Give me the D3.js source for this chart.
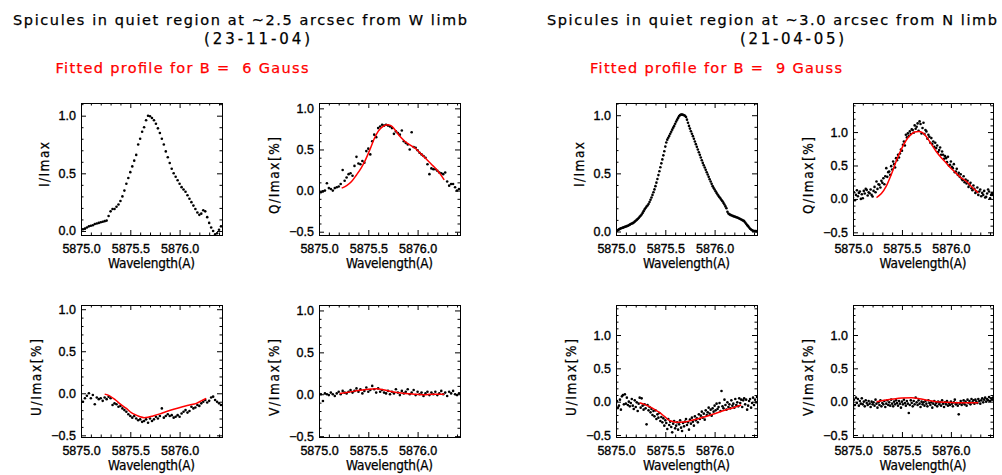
<!DOCTYPE html>
<html><head><meta charset="utf-8">
<script src="https://cdn.jsdelivr.net/npm/d3@7"></script>
<style>body{margin:0;background:#fff}svg{display:block}</style>
</head><body><svg id="c" width="1002" height="475"></svg>
<script>
// ---------- DATA ----------
const xDomain = [5875.0, 5876.43];
const xMajor = [5875.0, 5875.5, 5876.0];
const xMinor = [5875.1,5875.2,5875.3,5875.4,5875.6,5875.7,5875.8,5875.9,5876.1,5876.2,5876.3,5876.4];
const yMajorI = [0.0, 0.5, 1.0];
const yMajorP = [-0.5, 0.0, 0.5, 1.0];
const yMinor = [-0.4,-0.3,-0.2,-0.1,0.1,0.2,0.3,0.4,0.6,0.7,0.8,0.9,1.1,1.2,1.3,1.4];

const titleLeft = "Spicules in quiet region at ~2.5 arcsec from W limb";
const dateLeft = "(23-11-04)";
const fitLabelLeft = "Fitted profile for B =  6 Gauss";
const titleRight = "Spicules in quiet region at ~3.0 arcsec from N limb";
const dateRight = "(21-04-05)";
const fitLabelRight = "Fitted profile for B =  9 Gauss";
const xLabel = "Wavelength(A)";

// left observation (23-11-04)
const wlLeft = [
5875.00,5875.02,5875.04,5875.06,5875.08,5875.10,5875.12,5875.14,5875.16,5875.18,
5875.20,5875.22,5875.24,5875.26,5875.28,5875.30,5875.32,5875.34,5875.36,5875.38,
5875.40,5875.42,5875.44,5875.46,5875.48,5875.50,5875.52,5875.54,5875.56,5875.58,
5875.60,5875.62,5875.64,5875.66,5875.68,5875.70,5875.72,5875.74,5875.76,5875.78,
5875.80,5875.82,5875.84,5875.86,5875.88,5875.90,5875.92,5875.94,5875.96,5875.98,
5876.00,5876.02,5876.04,5876.06,5876.08,5876.10,5876.12,5876.14,5876.16,5876.18,
5876.20,5876.22,5876.24,5876.26,5876.28,5876.30,5876.32,5876.34,5876.36,5876.38,
5876.40,5876.42];
const iLeft = [
0.01,0.015,0.02,0.03,0.04,0.045,0.05,0.06,0.065,0.07,
0.075,0.08,0.085,0.09,0.13,0.17,0.19,0.19,0.21,0.23,
0.26,0.30,0.35,0.41,0.46,0.51,0.56,0.61,0.66,0.75,
0.80,0.86,0.90,0.96,1.0,0.995,0.98,0.96,0.93,0.89,
0.85,0.80,0.75,0.69,0.64,0.59,0.54,0.50,0.47,0.44,
0.41,0.38,0.36,0.34,0.31,0.28,0.25,0.22,0.19,0.16,
0.14,0.15,0.18,0.17,0.12,0.07,0.03,0.00,-0.03,-0.02,
0.01,0.04];
const qLeft = [
-0.04,-0.02,-0.01,0.00,0.09,0.03,0.02,0.00,0.03,0.04,
0.05,0.08,0.25,0.12,0.16,0.20,0.21,0.18,0.30,0.41,
0.33,0.32,0.36,0.34,0.48,0.51,0.44,0.60,0.68,0.65,
0.76,0.78,0.80,0.79,0.80,0.79,0.78,0.76,0.69,0.72,
0.70,0.68,0.73,0.60,0.58,0.56,0.50,0.71,0.53,0.52,
0.49,0.46,0.44,0.42,0.40,0.32,0.20,0.27,0.26,0.26,
0.24,0.22,0.21,0.20,0.22,0.11,0.06,0.08,0.08,0.04,
0.00,0.02];
const uLeft = [
-0.08,-0.10,-0.06,-0.03,0.00,-0.06,-0.02,-0.13,-0.05,-0.07,
-0.06,-0.09,-0.05,-0.07,-0.04,-0.06,-0.14,-0.12,-0.13,-0.16,
-0.15,-0.18,-0.20,-0.22,-0.25,-0.27,-0.29,-0.27,-0.30,-0.32,
-0.31,-0.34,-0.33,-0.31,-0.35,-0.30,-0.33,-0.31,-0.28,-0.30,
-0.27,-0.18,-0.29,-0.27,-0.25,-0.27,-0.26,-0.29,-0.28,-0.26,
-0.28,-0.24,-0.22,-0.20,-0.23,-0.21,-0.16,-0.18,-0.17,-0.14,
-0.15,-0.12,-0.10,-0.08,-0.11,-0.09,-0.05,-0.04,-0.08,-0.10,
-0.12,-0.14];
const vLeft = [
0.01,0.00,-0.08,0.01,0.00,-0.01,0.02,0.00,-0.02,0.01,
0.03,0.00,0.04,0.02,0.01,0.03,0.05,0.02,0.04,0.07,
0.03,0.06,0.01,0.04,0.08,0.03,0.05,0.10,0.06,0.02,
0.07,0.03,0.05,0.02,0.01,0.04,0.00,0.03,0.01,0.06,
0.02,-0.01,0.04,0.01,0.03,0.06,0.00,0.02,0.05,-0.01,
0.03,0.00,0.02,-0.02,0.01,0.03,-0.01,0.02,0.00,0.03,
-0.01,0.01,0.04,0.00,0.02,-0.02,0.03,0.01,0.04,0.00,
-0.01,0.01];
const fitQLeft = [[5875.23,0.03],[5875.28,0.06],[5875.33,0.11],[5875.38,0.19],[5875.43,0.28],[5875.47,0.37],[5875.52,0.51],[5875.56,0.63],[5875.60,0.72],[5875.65,0.78],[5875.69,0.80],[5875.73,0.79],[5875.77,0.74],[5875.82,0.66],[5875.87,0.60],[5875.93,0.55],[5875.99,0.50],[5876.04,0.44],[5876.09,0.38],[5876.14,0.32],[5876.19,0.26],[5876.23,0.20],[5876.27,0.13]];
const fitULeft = [[5875.24,-0.01],[5875.29,-0.03],[5875.35,-0.08],[5875.40,-0.13],[5875.46,-0.18],[5875.51,-0.23],[5875.56,-0.26],[5875.60,-0.28],[5875.64,-0.29],[5875.68,-0.285],[5875.73,-0.27],[5875.80,-0.245],[5875.86,-0.22],[5875.94,-0.19],[5876.03,-0.16],[5876.10,-0.14],[5876.17,-0.12],[5876.22,-0.09],[5876.27,-0.06]];
const fitVLeft = [[5875.21,0.01],[5875.30,0.025],[5875.40,0.045],[5875.50,0.06],[5875.58,0.065],[5875.65,0.055],[5875.72,0.035],[5875.79,0.02],[5875.88,0.01],[5875.97,0.0],[5876.06,-0.005],[5876.15,0.0],[5876.27,0.0]];

// right observation (21-04-05)
const wlRight = [
5875.00,5875.01,5875.02,5875.03,5875.04,5875.05,5875.06,5875.07,5875.08,5875.09,
5875.10,5875.11,5875.12,5875.13,5875.14,5875.15,5875.16,5875.17,5875.18,5875.19,
5875.20,5875.21,5875.22,5875.23,5875.24,5875.25,5875.26,5875.27,5875.28,5875.29,
5875.30,5875.31,5875.32,5875.33,5875.34,5875.35,5875.36,5875.37,5875.38,5875.39,
5875.40,5875.41,5875.42,5875.43,5875.44,5875.45,5875.46,5875.47,5875.48,5875.49,
5875.50,5875.51,5875.52,5875.53,5875.54,5875.55,5875.56,5875.57,5875.58,5875.59,
5875.60,5875.61,5875.62,5875.63,5875.64,5875.65,5875.66,5875.67,5875.68,5875.69,
5875.70,5875.71,5875.72,5875.73,5875.74,5875.75,5875.76,5875.77,5875.78,5875.79,
5875.80,5875.81,5875.82,5875.83,5875.84,5875.85,5875.86,5875.87,5875.88,5875.89,
5875.90,5875.91,5875.92,5875.93,5875.94,5875.95,5875.96,5875.97,5875.98,5875.99,
5876.00,5876.01,5876.02,5876.03,5876.04,5876.05,5876.06,5876.07,5876.08,5876.09,
5876.10,5876.11,5876.12,5876.13,5876.14,5876.15,5876.16,5876.17,5876.18,5876.19,
5876.20,5876.21,5876.22,5876.23,5876.24,5876.25,5876.26,5876.27,5876.28,5876.29,
5876.30,5876.31,5876.32,5876.33,5876.34,5876.35,5876.36,5876.37,5876.38,5876.39,
5876.40,5876.41,5876.42,5876.43];
const iRight = [
0.000,0.006,0.012,0.018,0.023,0.027,0.030,0.033,0.037,0.040,
0.043,0.046,0.050,0.054,0.059,0.064,0.068,0.072,0.078,0.085,
0.092,0.100,0.107,0.116,0.126,0.136,0.146,0.160,0.175,0.190,
0.202,0.214,0.224,0.236,0.254,0.273,0.293,0.315,0.338,0.362,
0.390,0.420,0.452,0.485,0.518,0.552,0.586,0.620,0.655,0.690,
0.730,0.765,0.790,0.806,0.822,0.840,0.858,0.876,0.893,0.908,
0.926,0.945,0.962,0.977,0.992,1.002,1.006,1.005,1.003,1.000,
0.996,0.985,0.962,0.935,0.908,0.885,0.862,0.840,0.820,0.797,
0.774,0.751,0.728,0.705,0.682,0.659,0.636,0.613,0.590,0.570,
0.550,0.530,0.510,0.490,0.470,0.450,0.430,0.410,0.390,0.375,
0.361,0.346,0.332,0.318,0.306,0.294,0.283,0.271,0.260,0.246,
0.232,0.216,0.200,0.170,0.155,0.148,0.143,0.140,0.136,0.132,
0.129,0.126,0.123,0.120,0.116,0.112,0.108,0.103,0.098,0.094,
0.089,0.078,0.066,0.055,0.046,0.034,0.024,0.017,0.011,0.007,
0.005,0.004,0.003,0.002];
const qRight = [
0.02,0.10,-0.02,0.06,0.13,0.04,0.09,0.11,0.00,0.07,
0.01,0.12,0.08,0.15,0.135,0.05,0.10,0.085,0.14,0.06,
0.035,0.12,0.18,0.10,0.26,0.15,0.22,0.21,0.17,0.27,
0.24,0.31,0.22,0.34,0.46,0.33,0.40,0.41,0.36,0.49,
0.44,0.56,0.52,0.47,0.61,0.58,0.66,0.62,0.68,0.74,
0.72,0.81,0.86,0.80,0.96,0.92,0.98,0.94,1.01,0.97,
1.04,1.03,0.99,1.10,1.05,1.08,1.13,1.02,1.16,1.12,
0.98,1.06,1.14,0.97,1.03,1.01,0.90,0.96,0.93,0.84,
0.91,0.82,0.86,0.78,0.84,0.76,0.80,0.70,0.73,0.77,
0.66,0.71,0.66,0.60,0.64,0.61,0.55,0.63,0.50,0.51,
0.56,0.48,0.46,0.52,0.40,0.41,0.45,0.36,0.39,0.33,
0.37,0.30,0.28,0.34,0.25,0.29,0.23,0.27,0.18,0.21,
0.24,0.16,0.13,0.20,0.15,0.09,0.11,0.17,0.06,0.11,
0.14,0.04,0.09,0.06,0.12,0.02,0.03,0.08,0.14,0.11,
0.01,0.06,0.09,0.06];
const uRight = [
-0.02,0.01,-0.09,-0.06,0.03,-0.12,0.08,0.10,-0.04,0.11,
-0.03,0.06,-0.05,0.00,-0.07,-0.02,0.04,-0.06,-0.11,0.02,
-0.08,-0.01,-0.14,-0.03,0.06,-0.09,0.05,-0.06,-0.12,-0.04,
-0.10,-0.34,-0.05,-0.13,-0.08,-0.16,-0.11,-0.20,-0.14,-0.22,
-0.13,-0.26,-0.19,-0.24,-0.17,-0.29,-0.23,-0.31,-0.25,-0.36,
-0.28,-0.32,-0.41,-0.26,-0.35,-0.30,-0.38,-0.46,-0.33,-0.29,
-0.40,-0.36,-0.31,-0.42,-0.34,-0.28,-0.39,-0.44,-0.32,-0.37,
-0.30,-0.26,-0.35,-0.31,-0.42,-0.27,-0.33,-0.24,-0.30,-0.36,
-0.22,-0.28,-0.25,-0.31,-0.19,-0.26,-0.21,-0.15,-0.24,-0.18,
-0.27,-0.13,-0.20,-0.16,-0.09,-0.18,-0.12,-0.21,-0.10,-0.15,
-0.06,-0.13,-0.03,-0.11,-0.08,-0.02,-0.14,0.16,-0.07,-0.10,
0.03,-0.05,-0.12,-0.01,-0.08,-0.04,-0.10,0.02,-0.06,-0.03,
-0.09,0.04,-0.05,-0.01,-0.07,0.05,-0.02,0.03,-0.08,0.02,
0.05,-0.04,0.03,-0.12,-0.06,0.01,0.04,-0.09,-0.02,0.06,
-0.05,0.03,-0.01,0.07];
const vRight = [
-0.08,0.03,-0.05,0.06,-0.02,0.04,-0.06,0.01,-0.03,0.05,
-0.04,0.00,-0.07,0.02,-0.02,-0.05,0.01,-0.03,-0.08,0.00,
-0.04,-0.01,-0.06,0.03,-0.03,-0.09,-0.01,-0.05,0.02,-0.07,
-0.02,-0.04,0.01,-0.08,-0.03,0.02,-0.05,-0.01,-0.06,0.03,
-0.03,-0.07,0.00,-0.04,0.02,-0.02,-0.06,0.01,-0.03,-0.09,
0.00,-0.04,0.03,-0.02,-0.06,0.01,-0.03,-0.17,-0.05,0.02,
-0.02,-0.07,0.01,-0.04,0.06,-0.01,-0.05,0.02,-0.03,-0.08,
0.00,-0.04,-0.01,-0.06,0.01,-0.03,-0.07,0.02,-0.02,-0.05,
-0.01,-0.09,-0.03,0.01,-0.05,-0.02,-0.07,0.00,-0.04,-0.01,
-0.06,0.02,-0.03,-0.08,-0.01,-0.04,0.01,-0.06,-0.02,-0.05,
0.00,-0.03,-0.07,-0.01,0.03,-0.04,-0.02,-0.06,-0.19,-0.03,
0.01,-0.05,-0.02,0.02,-0.04,0.00,-0.06,0.03,-0.02,0.01,
-0.04,0.04,-0.01,0.02,-0.03,0.03,0.00,-0.02,0.04,0.01,
-0.03,0.02,0.05,-0.01,0.03,0.06,0.00,0.04,0.02,0.07,
0.01,0.05,0.03,0.06];
const fitQRight = [[5875.24,0.02],[5875.29,0.08],[5875.34,0.19],[5875.39,0.36],[5875.44,0.56],[5875.49,0.73],[5875.54,0.87],[5875.59,0.96],[5875.63,1.00],[5875.67,1.01],[5875.71,0.99],[5875.75,0.93],[5875.80,0.82],[5875.85,0.71],[5875.90,0.62],[5875.95,0.54],[5876.00,0.46],[5876.05,0.39],[5876.10,0.32],[5876.16,0.26],[5876.22,0.17],[5876.28,0.09]];
const fitURight = [[5875.24,-0.015],[5875.29,-0.04],[5875.34,-0.075],[5875.39,-0.115],[5875.44,-0.16],[5875.49,-0.22],[5875.54,-0.28],[5875.58,-0.30],[5875.63,-0.31],[5875.67,-0.305],[5875.71,-0.30],[5875.78,-0.275],[5875.85,-0.25],[5875.92,-0.22],[5875.98,-0.19],[5876.05,-0.155],[5876.11,-0.125],[5876.19,-0.09],[5876.27,-0.05]];
const fitVRight = [[5875.24,0.0],[5875.32,0.02],[5875.41,0.04],[5875.50,0.055],[5875.60,0.06],[5875.68,0.045],[5875.76,0.02],[5875.85,0.0],[5875.95,-0.01],[5876.05,-0.015],[5876.16,-0.015],[5876.28,-0.015]];

// ---------- DRAWING ----------
const TITLE_FONT = "'DejaVu Sans', 'Liberation Sans', sans-serif";
const AXIS_FONT = "'DejaVu Sans Condensed', 'DejaVu Sans', sans-serif";
const TICK_FONT = "'Liberation Sans', Arial, sans-serif";
const svg = d3.select('#c');
svg.append('rect').attr('width',1002).attr('height',475).attr('fill','#fff');

function addText(t, x, y, size, len, color) {
  svg.append('text').attr('x', x).attr('y', y).attr('text-anchor','middle')
    .attr('font-family', TITLE_FONT).attr('font-size', size).attr('fill', color)
    .attr('stroke', color).attr('stroke-width', 0.25)
    .attr('textLength', len).attr('lengthAdjust','spacing')
    .style('white-space','pre').text(t);
}
addText(titleLeft, 240, 25, 14.5, 454, '#000');
addText(dateLeft, 257, 44, 15, 106, '#000');
addText(fitLabelLeft, 182, 73, 14.5, 253, '#ff0000');
addText(titleRight, 772, 25, 14.5, 450, '#000');
addText(dateRight, 792, 44, 15, 104, '#000');
addText(fitLabelRight, 716, 73, 14.5, 252, '#ff0000');

const panels = [
  {left:81, top:103, w:141, h:132, yDomain:[-0.035,1.11], yMajor:yMajorI, label:'I/Imax', wl:wlLeft, vals:iLeft, fit:null},
  {left:319, top:103, w:141, h:132, yDomain:[-0.54,1.065], yMajor:yMajorP, label:'Q/Imax[%]', wl:wlLeft, vals:qLeft, fit:fitQLeft},
  {left:81, top:305, w:141, h:132, yDomain:[-0.52,1.05], yMajor:yMajorP, label:'U/Imax[%]', wl:wlLeft, vals:uLeft, fit:fitULeft},
  {left:319, top:305, w:141, h:132, yDomain:[-0.51,1.065], yMajor:yMajorP, label:'V/Imax[%]', wl:wlLeft, vals:vLeft, fit:fitVLeft},
  {left:616, top:103, w:141, h:132, yDomain:[-0.03,1.105], yMajor:yMajorI, label:'I/Imax', wl:wlRight, vals:iRight, fit:null},
  {left:853, top:103, w:140, h:132, yDomain:[-0.54,1.435], yMajor:yMajorP, label:'Q/Imax[%]', wl:wlRight, vals:qRight, fit:fitQRight},
  {left:616, top:305, w:141, h:132, yDomain:[-0.53,1.45], yMajor:yMajorP, label:'U/Imax[%]', wl:wlRight, vals:uRight, fit:fitURight},
  {left:853, top:305, w:140, h:132, yDomain:[-0.53,1.45], yMajor:yMajorP, label:'V/Imax[%]', wl:wlRight, vals:vRight, fit:fitVRight}
];

const fmt = d3.format('.1f');
function styleAxis(sel) {
  sel.select('.domain').remove();
  sel.attr('font-family', TICK_FONT).attr('font-size', 12.5);
  sel.selectAll('line').attr('stroke', '#000');
  sel.selectAll('text').attr('fill', '#000').attr('stroke', '#000').attr('stroke-width', 0.35);
}

panels.forEach((p, i) => {
  const x = d3.scaleLinear().domain(xDomain).range([p.left, p.left + p.w]);
  const y = d3.scaleLinear().domain(p.yDomain).range([p.top + p.h, p.top]);
  const g = svg.append('g');
  const yMin = yMinor.filter(v => v > p.yDomain[0] && v < p.yDomain[1]);
  const bottom = p.top + p.h, right = p.left + p.w;

  g.append('g').attr('transform', `translate(0,${bottom})`)
    .call(d3.axisBottom(x).tickValues(xMajor).tickSize(-5).tickSizeOuter(0).tickPadding(9).tickFormat(fmt)).call(styleAxis);
  g.append('g').attr('transform', `translate(0,${bottom})`)
    .call(d3.axisBottom(x).tickValues(xMinor).tickSize(-2.5).tickSizeOuter(0).tickFormat('')).call(styleAxis);
  g.append('g').attr('transform', `translate(0,${p.top})`)
    .call(d3.axisTop(x).tickValues(xMajor).tickSize(-5).tickSizeOuter(0).tickFormat('')).call(styleAxis);
  g.append('g').attr('transform', `translate(0,${p.top})`)
    .call(d3.axisTop(x).tickValues(xMinor).tickSize(-2.5).tickSizeOuter(0).tickFormat('')).call(styleAxis);
  g.append('g').attr('transform', `translate(${p.left},0)`)
    .call(d3.axisLeft(y).tickValues(p.yMajor).tickSize(-5).tickSizeOuter(0).tickPadding(5).tickFormat(fmt)).call(styleAxis);
  g.append('g').attr('transform', `translate(${p.left},0)`)
    .call(d3.axisLeft(y).tickValues(yMin).tickSize(-2.5).tickSizeOuter(0).tickFormat('')).call(styleAxis);
  g.append('g').attr('transform', `translate(${right},0)`)
    .call(d3.axisRight(y).tickValues(p.yMajor).tickSize(-5).tickSizeOuter(0).tickFormat('')).call(styleAxis);
  g.append('g').attr('transform', `translate(${right},0)`)
    .call(d3.axisRight(y).tickValues(yMin).tickSize(-2.5).tickSizeOuter(0).tickFormat('')).call(styleAxis);

  g.append('rect').attr('x', p.left + 0.5).attr('y', p.top + 0.5).attr('width', p.w).attr('height', p.h)
    .attr('fill', 'none').attr('stroke', '#000').attr('stroke-width', 1);

  const clipId = 'clip' + i;
  svg.append('clipPath').attr('id', clipId).append('rect')
    .attr('x', p.left).attr('y', p.top).attr('width', p.w + 1).attr('height', p.h + 1);
  const plot = g.append('g').attr('clip-path', `url(#${clipId})`);
  plot.selectAll('circle').data(d3.zip(p.wl, p.vals)).join('circle')
    .attr('cx', d => x(d[0])).attr('cy', d => y(d[1])).attr('r', 1.3).attr('fill', '#000');
  if (p.fit) {
    plot.append('path').datum(p.fit)
      .attr('d', d3.line().x(d => x(d[0])).y(d => y(d[1])).curve(d3.curveMonotoneX))
      .attr('fill', 'none').attr('stroke', '#ff0000').attr('stroke-width', 1.5);
  }

  // axis titles
  g.append('text').attr('x', p.left + p.w / 2).attr('y', bottom + 33).attr('text-anchor', 'middle')
    .attr('font-family', AXIS_FONT).attr('font-size', 13.5).attr('fill', '#000')
    .attr('stroke', '#000').attr('stroke-width', 0.25)
    .attr('textLength', 87).attr('lengthAdjust', 'spacing').text(xLabel);
  const isI = p.yMajor === yMajorI;
  const cx = p.left - (isI ? 32 : 40);
  const cy = p.top + p.h / 2 + (isI ? -4.5 : 6.5);
  g.append('text').attr('transform', `translate(${cx},${cy}) rotate(-90)`).attr('text-anchor', 'middle')
    .attr('font-family', AXIS_FONT).attr('font-size', 13.5).attr('fill', '#000')
    .attr('stroke', '#000').attr('stroke-width', 0.25)
    .attr('textLength', isI ? 45 : 77).attr('lengthAdjust', 'spacing').text(p.label);
});
</script>
</body></html>
